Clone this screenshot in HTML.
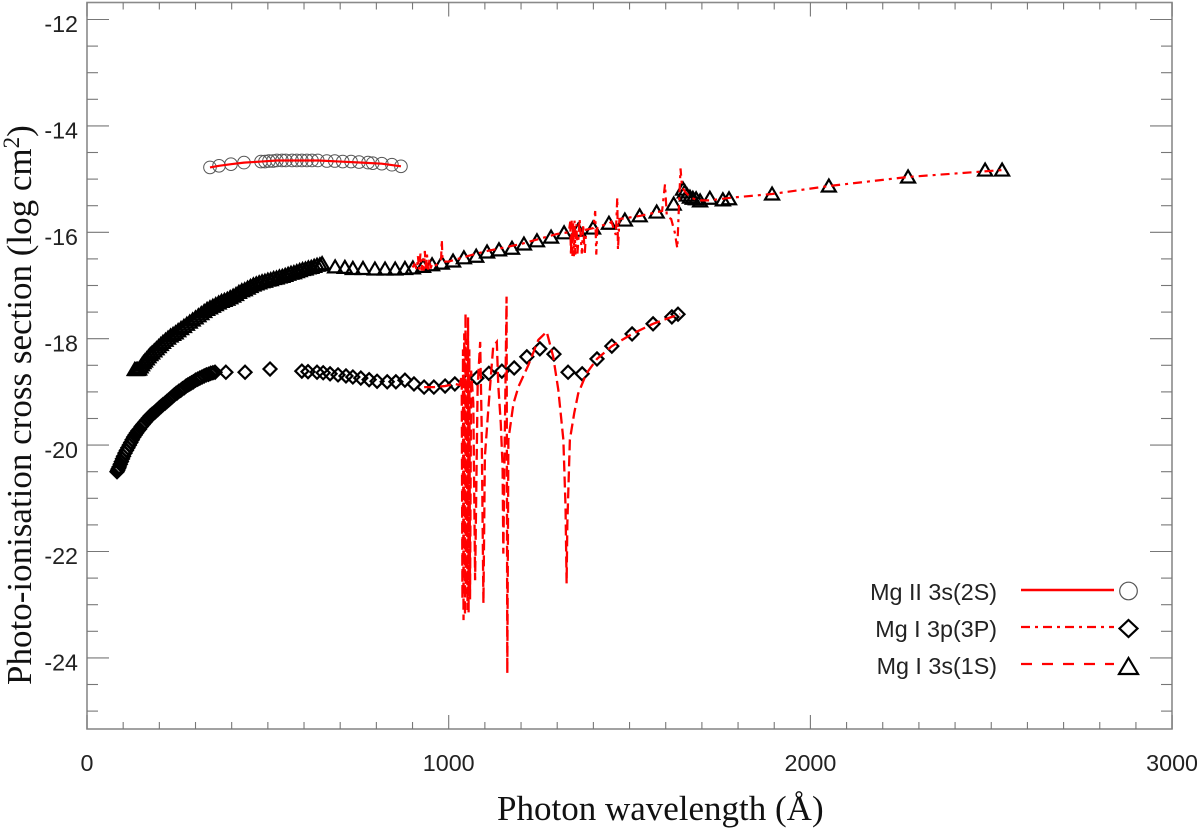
<!DOCTYPE html>
<html lang="en">
<head>
<meta charset="utf-8">
<title>Photo-ionisation cross section</title>
<style>
html,body{margin:0;padding:0;background:#fff;width:1200px;height:830px;overflow:hidden}
svg{display:block}
.tick-label{font-family:"Liberation Sans",sans-serif;font-size:23.3px;fill:#222}
.legend-label{font-family:"Liberation Sans",sans-serif;font-size:23.3px;fill:#222;text-anchor:end}
.axis-title{font-family:"Liberation Serif",serif;font-size:35px;fill:#111}
</style>
</head>
<body>
<svg id="chart" width="1200" height="830" viewBox="0 0 1200 830" xmlns="http://www.w3.org/2000/svg">
  <rect x="87" y="2.5" width="1085" height="726.5" fill="none" stroke="#8a8a8a" stroke-width="1.6"/>
  <g id="ticks"></g>
  <g id="tick-labels"></g>
  <g id="markers"></g>
  <g id="lines"></g>
  <text class="axis-title" x="497" y="820">Photon wavelength (Å)</text>
  <text class="axis-title" transform="translate(31,685) rotate(-90)">Photo-ionisation cross section (log cm<tspan font-size="23" dy="-12">2</tspan><tspan dy="12">)</tspan></text>
  <g>
    <text class="legend-label" x="997" y="600">Mg II 3s(2S)</text>
    <line x1="1021" y1="590" x2="1114" y2="590" stroke="#f00" stroke-width="2.4"/>
    <circle cx="1128.5" cy="591" r="8.8" fill="none" stroke="#555" stroke-width="1.2"/>
    <text class="legend-label" x="997" y="637">Mg I 3p(3P)</text>
    <line x1="1021" y1="627" x2="1114" y2="627" stroke="#f00" stroke-width="2.2" stroke-dasharray="9,5,3,5"/>
    <polygon points="1128.5,620 1137.5,628.5 1128.5,637 1119.5,628.5" fill="none" stroke="#000" stroke-width="2.2"/>
    <text class="legend-label" x="997" y="674">Mg I 3s(1S)</text>
    <line x1="1021" y1="664" x2="1114" y2="664" stroke="#f00" stroke-width="2.2" stroke-dasharray="11,10"/>
    <polygon points="1128.5,658 1138,674 1119,674" fill="none" stroke="#000" stroke-width="2.2"/>
  </g>
</svg>
<script>
const xTickLabels = [0, 1000, 2000, 3000];
const yTickLabels = [-12, -14, -16, -18, -20, -22, -24];

const circleWl = [340,365,398,434,481,492,503,514,525,539,550,567,580,594,608,622,638,663,685,707,730,752,777,790,815,843,868];
const circleLog = [-14.78,-14.75,-14.72,-14.69,-14.67,-14.67,-14.66,-14.66,-14.65,-14.65,-14.65,-14.65,-14.65,-14.65,-14.65,-14.65,-14.65,-14.66,-14.66,-14.67,-14.67,-14.68,-14.69,-14.70,-14.71,-14.73,-14.76];

const diamondWl = [83,85,87,89,92,95,98,101,105,109,113,117,121,125,129,133,137,141,145,150,155,160,165,170,175,180,184,188,192,196,200,205,210,216,221,226,231,236,241,246,249,254,259,264,269,274,279,284,289,294,300,306,312,318,324,330,336,342,348,354,384,437,506,594,611,636,653,672,694,716,735,757,780,802,830,854,879,904,932,959,990,1017,1051,1078,1111,1147,1181,1216,1252,1291,1330,1369,1410,1451,1507,1565,1617,1634];
const diamondLog = [-20.50,-20.47,-20.44,-20.41,-20.36,-20.31,-20.26,-20.21,-20.15,-20.10,-20.05,-20.00,-19.95,-19.90,-19.85,-19.81,-19.77,-19.73,-19.70,-19.65,-19.61,-19.57,-19.53,-19.49,-19.45,-19.42,-19.40,-19.38,-19.35,-19.33,-19.30,-19.27,-19.24,-19.21,-19.18,-19.15,-19.12,-19.09,-19.06,-19.03,-19.02,-18.99,-18.97,-18.94,-18.92,-18.89,-18.87,-18.85,-18.83,-18.81,-18.78,-18.76,-18.74,-18.72,-18.70,-18.68,-18.67,-18.65,-18.64,-18.63,-18.63,-18.63,-18.57,-18.61,-18.62,-18.63,-18.64,-18.66,-18.68,-18.70,-18.72,-18.74,-18.77,-18.80,-18.81,-18.81,-18.78,-18.85,-18.91,-18.91,-18.89,-18.85,-18.80,-18.74,-18.65,-18.61,-18.55,-18.34,-18.19,-18.29,-18.63,-18.66,-18.38,-18.14,-17.91,-17.72,-17.59,-17.54];

const triangleWl = [132,136,140,144,148,152,156,160,165,170,175,180,186,192,198,204,210,217,224,231,238,245,252,260,268,276,284,292,300,308,316,324,332,340,348,356,364,372,380,388,396,404,412,420,428,436,444,452,460,468,476,484,492,500,508,516,524,532,540,548,556,564,572,580,588,596,604,612,620,628,636,644,650,686,713,735,763,796,824,852,879,901,929,954,981,1012,1042,1076,1106,1139,1175,1208,1244,1283,1319,1358,1399,1443,1487,1528,1575,1622,1648,1653,1659,1667,1675,1684,1695,1722,1758,1775,1894,2051,2270,2483,2530];
const triangleLog = [-18.58,-18.58,-18.58,-18.57,-18.53,-18.49,-18.45,-18.42,-18.38,-18.34,-18.30,-18.27,-18.23,-18.19,-18.15,-18.11,-18.07,-18.03,-17.99,-17.95,-17.92,-17.89,-17.85,-17.81,-17.77,-17.73,-17.69,-17.65,-17.61,-17.57,-17.53,-17.49,-17.45,-17.42,-17.39,-17.36,-17.33,-17.30,-17.28,-17.26,-17.23,-17.20,-17.17,-17.13,-17.10,-17.08,-17.05,-17.02,-16.99,-16.97,-16.95,-16.93,-16.92,-16.90,-16.89,-16.87,-16.86,-16.84,-16.83,-16.81,-16.79,-16.77,-16.76,-16.74,-16.72,-16.70,-16.69,-16.67,-16.66,-16.64,-16.62,-16.61,-16.59,-16.65,-16.66,-16.68,-16.68,-16.69,-16.69,-16.69,-16.68,-16.67,-16.64,-16.61,-16.58,-16.54,-16.48,-16.45,-16.37,-16.33,-16.30,-16.22,-16.16,-16.09,-16.01,-15.96,-15.92,-15.83,-15.77,-15.69,-15.62,-15.47,-15.19,-15.24,-15.30,-15.34,-15.36,-15.37,-15.41,-15.36,-15.39,-15.37,-15.28,-15.13,-14.96,-14.83,-14.83];

const solidWl = [340,365,398,434,481,525,580,640,700,760,815,868];
const solidLog = [-14.78,-14.75,-14.72,-14.69,-14.67,-14.65,-14.65,-14.65,-14.67,-14.69,-14.71,-14.76];

const dashDotWl = [900,905,912,915,918,922,925,928,931,934,937,940,943,947,950,955,965,975,979,981,983,1000,1040,1100,1200,1300,1332,1336,1338,1340,1342,1344,1346,1348,1350,1353,1356,1362,1368,1372,1376,1380,1400,1405,1408,1411,1445,1450,1462,1466,1468,1472,1530,1590,1598,1603,1615,1625,1632,1636,1641,1645,1655,1670,1690,1720,1780,1894,2051,2270,2530];
const dashDotLog = [-16.66,-16.60,-16.70,-16.45,-16.70,-16.40,-16.72,-16.50,-16.72,-16.35,-16.70,-16.42,-16.70,-16.50,-16.68,-16.58,-16.62,-16.55,-16.50,-16.14,-16.55,-16.55,-16.47,-16.36,-16.22,-16.03,-16.00,-15.80,-16.42,-15.78,-16.45,-15.80,-16.45,-15.78,-16.42,-15.85,-16.40,-15.75,-16.40,-15.85,-16.43,-15.95,-15.92,-15.60,-16.42,-15.90,-15.83,-15.80,-16.05,-15.35,-16.33,-15.75,-15.69,-15.60,-15.10,-15.70,-15.75,-16.00,-16.30,-15.60,-14.80,-15.15,-15.25,-15.35,-15.40,-15.40,-15.35,-15.28,-15.13,-14.96,-14.83];

const dashedWl = [932,959,990,1017,1030,1036,1038,1039.5,1041,1043,1045,1046.5,1048,1050,1052,1053.5,1055,1057,1059,1062,1068,1073,1080,1087,1091,1096,1100,1110,1123,1133,1137,1144,1149,1151,1155,1160,1162,1165,1179,1193,1220,1248,1271,1289,1303,1317,1323,1326,1328,1335,1347,1358,1381,1410,1451,1507,1565,1617,1640];
const dashedLog = [-18.91,-18.91,-18.89,-18.85,-18.87,-18.70,-22.90,-18.20,-23.29,-17.90,-23.20,-17.52,-22.80,-18.00,-23.10,-17.60,-23.15,-18.20,-22.90,-18.60,-19.20,-22.54,-18.90,-18.06,-19.59,-22.97,-20.22,-19.28,-18.15,-18.06,-18.87,-19.59,-20.41,-22.04,-19.90,-17.21,-24.29,-19.90,-19.22,-18.90,-18.50,-18.02,-17.87,-18.34,-18.96,-19.90,-21.16,-22.60,-21.47,-19.90,-19.40,-19.03,-18.65,-18.38,-18.14,-17.91,-17.72,-17.59,-17.54];

const NS = 'http://www.w3.org/2000/svg';
function sx(w){ return 87 + w * 0.3617; }
function sy(v){ return 19.5 + (-12 - v) * 53.2; }
function make(tag, parent){ const el = document.createElementNS(NS, tag); document.getElementById(parent).appendChild(el); return el; }
function pathFrom(wl, log){ return wl.map(function(w, i){ return (i ? 'L' : 'M') + sx(w).toFixed(2) + ' ' + sy(log[i]).toFixed(2); }).join(' '); }

for (let w = 0; w <= 3000; w += 100) {
  const major = w % 1000 === 0;
  const len = major ? 14 : 7;
  const bottom = make('line', 'ticks');
  
  
  bottom.setAttribute('x1', sx(w)); bottom.setAttribute('x2', sx(w));
  bottom.setAttribute('y1', 729); bottom.setAttribute('y2', 729 - len);
  bottom.setAttribute('stroke', '#777'); bottom.setAttribute('stroke-width', '1.1');
  const top = make('line', 'ticks');
  
  
  top.setAttribute('x1', sx(w)); top.setAttribute('x2', sx(w));
  top.setAttribute('y1', 2.5); top.setAttribute('y2', 2.5 + len);
  top.setAttribute('stroke', '#777'); top.setAttribute('stroke-width', '1.1');
}
for (let v = -25; v <= -12; v += 0.5) {
  const major = v % 2 === 0;
  const len = major ? 22 : 11;
  const left = make('line', 'ticks');
  
  
  left.setAttribute('x1', 87); left.setAttribute('x2', 87 + len);
  left.setAttribute('y1', sy(v)); left.setAttribute('y2', sy(v));
  left.setAttribute('stroke', '#777'); left.setAttribute('stroke-width', '1.1');
  const right = make('line', 'ticks');
  
  
  right.setAttribute('x1', 1172); right.setAttribute('x2', 1172 - len);
  right.setAttribute('y1', sy(v)); right.setAttribute('y2', sy(v));
  right.setAttribute('stroke', '#777'); right.setAttribute('stroke-width', '1.1');
}
xTickLabels.forEach(function(w){
  const t = make('text', 'tick-labels');
  
  
  t.setAttribute('class', 'tick-label');
  t.setAttribute('x', sx(w)); t.setAttribute('y', 771);
  t.setAttribute('text-anchor', 'middle');
  t.textContent = w;
});
yTickLabels.forEach(function(v){
  const t = make('text', 'tick-labels');
  
  
  t.setAttribute('class', 'tick-label');
  t.setAttribute('x', 78); t.setAttribute('y', sy(v) + 12.7);
  t.setAttribute('text-anchor', 'end');
  t.textContent = v;
});

circleWl.forEach(function(w, i){
  const c = make('circle', 'markers');
  
  
  c.setAttribute('cx', sx(w)); c.setAttribute('cy', sy(circleLog[i]));
  c.setAttribute('r', 6.3); c.setAttribute('fill', 'none');
  c.setAttribute('stroke', '#555'); c.setAttribute('stroke-width', '1');
});
diamondWl.forEach(function(w, i){
  const x = sx(w), y = sy(diamondLog[i]), r = 6.5;
  const p = make('polygon', 'markers');
  
  
  p.setAttribute('points', x + ',' + (y - r) + ' ' + (x + r) + ',' + y + ' ' + x + ',' + (y + r) + ' ' + (x - r) + ',' + y);
  p.setAttribute('fill', 'none'); p.setAttribute('stroke', '#000'); p.setAttribute('stroke-width', '2.2');
});
triangleWl.forEach(function(w, i){
  const x = sx(w), y = sy(triangleLog[i]);
  const p = make('polygon', 'markers');
  
  
  p.setAttribute('points', x + ',' + (y - 6.5) + ' ' + (x + 7) + ',' + (y + 5.5) + ' ' + (x - 7) + ',' + (y + 5.5));
  p.setAttribute('fill', 'none'); p.setAttribute('stroke', '#000'); p.setAttribute('stroke-width', '2.2');
});

const solidLine = make('path', 'lines');


solidLine.setAttribute('d', pathFrom(solidWl, solidLog));
solidLine.setAttribute('fill', 'none'); solidLine.setAttribute('stroke', '#f00'); solidLine.setAttribute('stroke-width', '2.2');

const dashDotLine = make('path', 'lines');


dashDotLine.setAttribute('d', pathFrom(dashDotWl, dashDotLog));
dashDotLine.setAttribute('fill', 'none'); dashDotLine.setAttribute('stroke', '#f00'); dashDotLine.setAttribute('stroke-width', '2.2');
dashDotLine.setAttribute('stroke-dasharray', '9,5,3,5');

const dashedLine = make('path', 'lines');


dashedLine.setAttribute('d', pathFrom(dashedWl, dashedLog));
dashedLine.setAttribute('fill', 'none'); dashedLine.setAttribute('stroke', '#f00'); dashedLine.setAttribute('stroke-width', '2.3');
dashedLine.setAttribute('stroke-dasharray', '11,5');
</script>
</body>
</html>
